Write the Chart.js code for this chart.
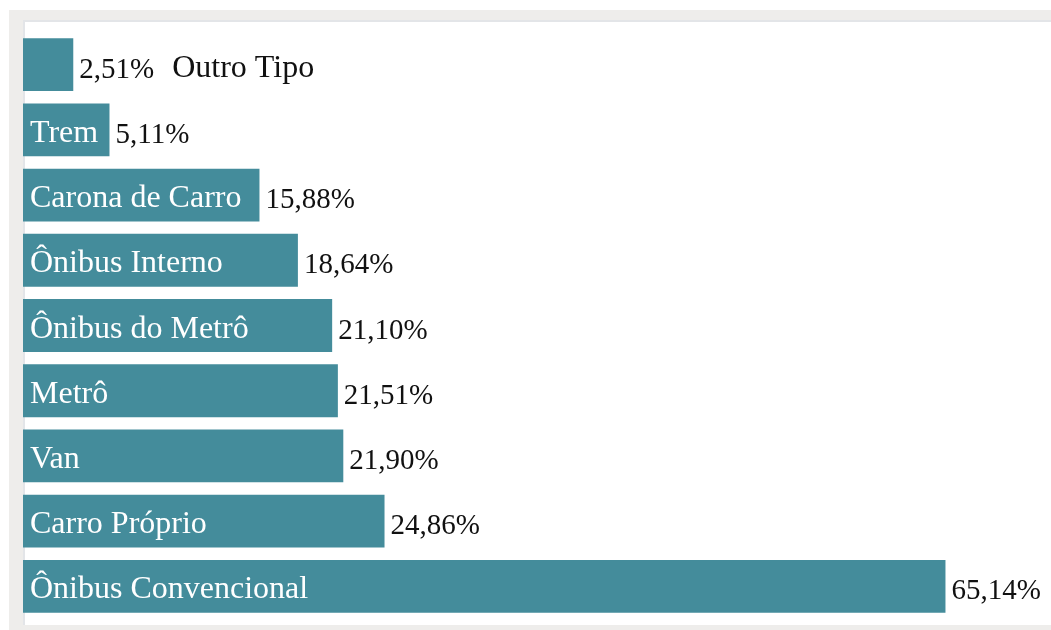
<!DOCTYPE html>
<html>
<head>
<meta charset="utf-8">
<script src="https://cdn.jsdelivr.net/npm/chart.js@4.4.0/dist/chart.umd.min.js"></script>
<style>
  html, body { margin: 0; padding: 0; background: #fff; }
  #wrap { position: relative; width: 1051px; height: 630px; overflow: hidden; }
  /* grey frame with a white panel, like the reference */
  .frame { position: absolute; left: 9px; top: 10px; right: 0; bottom: 0; background: #eeedeb; }
  .panel { position: absolute; left: 23px; top: 20px; right: 0; bottom: 5px; background: #fff;
           border-left: 2px solid #e3e5e8; border-top: 2px solid #e3e5e8; }
  #box { position: absolute; left: 0; top: 0; width: 1051px; height: 630px; }
</style>
</head>
<body>
<div id="wrap">
  <div class="frame"></div>
  <div class="panel"></div>
  <div id="box"><canvas id="chart"></canvas></div>
</div>
<script>
const categories = ['Outro Tipo', 'Trem', 'Carona de Carro', 'Ônibus Interno', 'Ônibus do Metrô',
                    'Metrô', 'Van', 'Carro Próprio', 'Ônibus Convencional']
const shares = [2.51, 5.11, 15.88, 18.64, 21.10, 21.51, 21.90, 24.86, 65.14]

const barColor = '#448c9b'
const labelFont = '32px "Liberation Serif", "Times New Roman", serif'
const valueFont = '29px "Liberation Serif", "Times New Roman", serif'

function pct(v) {
  return v.toFixed(2).replace('.', ',') + '%'
}

// draws category names inside the bars and the percentages after them
const barLabels = {
  id: 'barLabels',
  afterDatasetsDraw(chart) {
    const ctx = chart.ctx
    const meta = chart.getDatasetMeta(0)
    ctx.save()
    ctx.textBaseline = 'alphabetic'
    ctx.textAlign = 'left'
    meta.data.forEach((bar, i) => {
      const val = pct(shares[i])
      ctx.font = valueFont
      const valX = bar.x + 6
      ctx.fillStyle = '#111'
      ctx.fillText(val, valX, bar.y + 13)
      const valW = ctx.measureText(val).width

      ctx.font = labelFont
      const name = categories[i]
      const nameW = ctx.measureText(name).width
      const left = Math.min(bar.x, bar.base)
      if (nameW + 9 < bar.x - left) {
        ctx.fillStyle = '#fff'
        ctx.fillText(name, left + 7, bar.y + 12)
      } else {
        ctx.fillStyle = '#111'
        ctx.fillText(name, valX + valW + 18, bar.y + 12)
      }
    })
    ctx.restore()
  }
}

new Chart(document.getElementById('chart'), {
  type: 'bar',
  data: {
    labels: categories,
    datasets: [{
      data: shares,
      base: -1.1,
      backgroundColor: barColor,
      borderWidth: 0,
      barPercentage: 0.81,
      categoryPercentage: 1
    }]
  },
  options: {
    indexAxis: 'y',
    responsive: true,
    maintainAspectRatio: false,
    animation: false,
    layout: { padding: { left: 23, right: 10, top: 32, bottom: 11 } },
    scales: {
      x: { min: -1.1, max: 72, display: false },
      y: { display: false }
    },
    plugins: {
      legend: { display: false },
      tooltip: { enabled: false }
    }
  },
  plugins: [barLabels]
})
</script>
</body>
</html>
